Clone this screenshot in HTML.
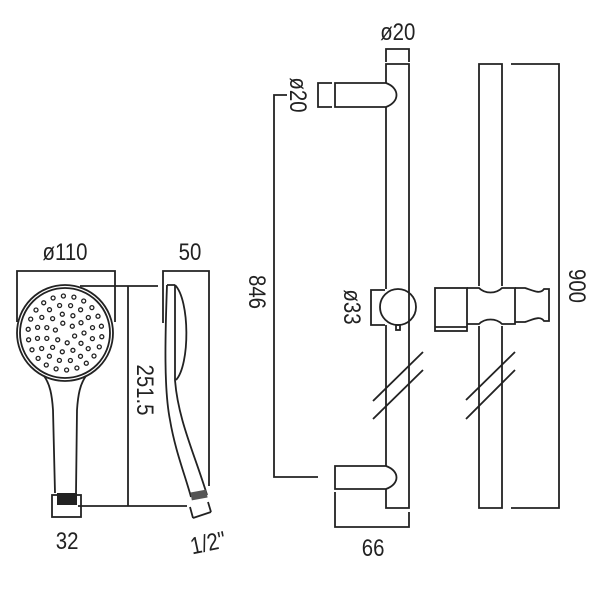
<!DOCTYPE html>
<html><head><meta charset="utf-8"><style>
html,body{margin:0;padding:0;background:#fff}
svg{display:block}
text{font-family:"Liberation Sans",sans-serif;font-size:24px;fill:#222}
</style></head><body>
<svg width="600" height="600" viewBox="0 0 600 600" xmlns="http://www.w3.org/2000/svg">
<g fill="none" stroke="#222" stroke-width="1.8">
<!-- Hand shower front -->
<circle cx="65" cy="333" r="48"/>
<circle cx="65" cy="333" r="45"/>
<path d="M44 376 C50 384 52 395 53 410 L55 493 M86 376 C80 384 78 395 77 410 L76 493"/>
<rect x="52" y="495" width="29" height="22"/>
<polyline points="17,322 17,271 115,271 115,322"/>
<line x1="80" y1="286" x2="158" y2="286"/>
<line x1="128" y1="286" x2="128" y2="506"/>
<line x1="78" y1="506" x2="187" y2="506"/>
<!-- side profile -->
<polyline points="163,323 163,271 209,271 209,486"/>
<path d="M167 285 L175 285 M167 285 C165 340 164 390 170 420 C175 450 185 475 191 497"/>
<path d="M175 285 L175 380 C178 420 195 455 207 495"/>
<path d="M175 285 C190 300 190 365 176 380"/>
<path d="M193 518 L211 512 M193 518 L190 507 M211 512 L208 502"/>
<!-- rail 1 -->
<polyline points="386,83 386,64 409,64 409,508 386,508 386,489"/>
<line x1="386" y1="107" x2="386" y2="289"/>
<line x1="386" y1="325" x2="386" y2="466"/>
<path d="M386 83 L335 83 L335 107 L386 107 M386 83 C400 88 400 102 386 107"/>
<path d="M386 466 L335 466 L335 489 L386 489 M386 466 C400 471 400 484 386 489"/>
<circle cx="398" cy="307" r="18"/>
<rect x="396" y="325" width="4" height="5"/>
<polyline points="386,62 386,49 409,49 409,62"/>
<polyline points="332,83 318,83 318,107 332,107"/>
<polyline points="287,95 274,95 274,477 318,477"/>
<polyline points="385,290 371,290 371,325 385,325"/>
<polyline points="335,492 335,527 409,527 409,512"/>
<line x1="373" y1="401" x2="423" y2="352"/>
<line x1="373" y1="419" x2="423" y2="370"/>
<!-- rail 2 -->
<path d="M479 286 L479 64 L502 64 L502 286 M479 326 L479 508 L502 508 L502 326"/>
<polyline points="511,64 559,64 559,508 511,508"/>
<line x1="466" y1="400" x2="515" y2="352"/>
<line x1="466" y1="419" x2="515" y2="370"/>
<rect x="435" y="288" width="32" height="43"/>
<line x1="435" y1="327" x2="467" y2="327"/>
<path d="M467 288 L479 288 C485 294 496 294 502 288 L515 288 L515 324 L502 324 C496 318 485 318 479 324 L467 324"/>
<path d="M515 288 L525 288 C532 290 540 295 544 289 L549 289 L549 321 L544 321 C540 315 532 320 525 322 L515 322"/>
</g>
<rect x="57" y="493" width="20" height="12" fill="#222"/>
<rect x="191" y="491" width="16" height="8" fill="#555" transform="rotate(-10 199 495)"/>
<g transform="scale(0.85 1)">
<text x="76.5" y="260" text-anchor="middle">ø110</text>
<text x="79" y="549" text-anchor="middle">32</text>
<text x="223.5" y="260" text-anchor="middle">50</text>
<text x="468" y="40" text-anchor="middle">ø20</text>
<text x="439" y="556" text-anchor="middle">66</text>
</g>
<text x="0" y="0" text-anchor="middle" transform="translate(208 543) rotate(-12) scale(0.85 1) translate(0 8)">1/2"</text>
<text x="0" y="0" text-anchor="middle" transform="translate(137 390) rotate(90) scale(0.85 1)">251.5</text>
<text x="0" y="0" text-anchor="middle" transform="translate(290 95) rotate(90) scale(0.85 1)">ø20</text>
<text x="0" y="0" text-anchor="middle" transform="translate(249 292) rotate(90) scale(0.85 1)">846</text>
<text x="0" y="0" text-anchor="middle" transform="translate(344 307) rotate(90) scale(0.85 1)">ø33</text>
<text x="0" y="0" text-anchor="middle" transform="translate(569 286) rotate(90) scale(0.85 1)">900</text>
<g id="dots" fill="#fff" stroke="#222" stroke-width="1.3">
</g>
</svg>
<script>
var g=document.getElementById('dots'),ns='http://www.w3.org/2000/svg';
var rings=[[10,6,0.3],[19,11,0],[28,16,0.2],[37,22,0.1]];
rings.forEach(function(r){for(var i=0;i<r[1];i++){var a=2*Math.PI*i/r[1]+r[2];var c=document.createElementNS(ns,'circle');c.setAttribute('cx',(65+r[0]*Math.cos(a)).toFixed(1));c.setAttribute('cy',(333+r[0]*Math.sin(a)).toFixed(1));c.setAttribute('r','2');g.appendChild(c);}});
</script>
</body></html>
